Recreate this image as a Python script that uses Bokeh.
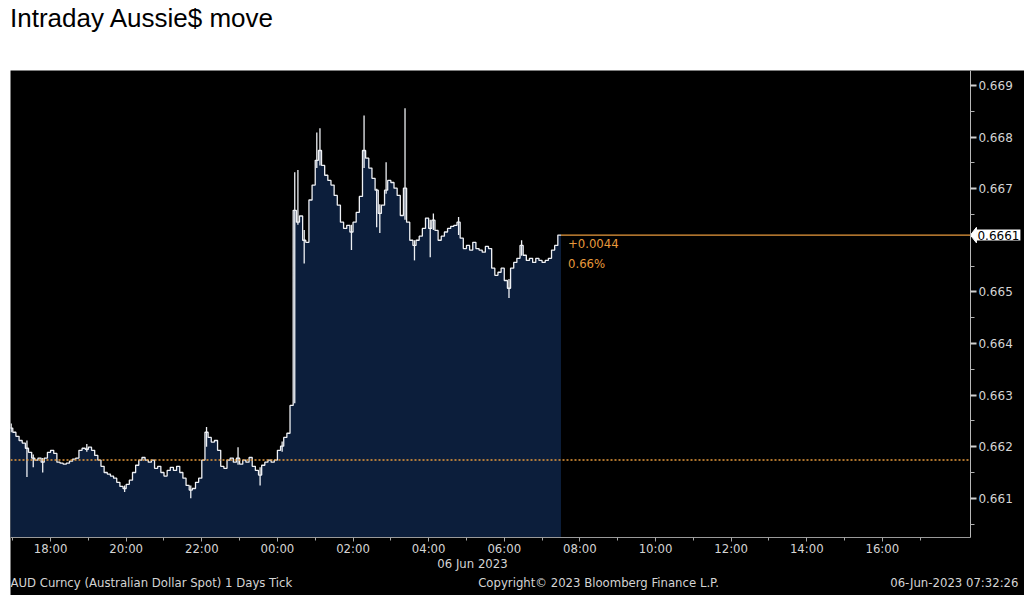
import numpy as np
from bokeh.plotting import figure
from bokeh.models import Label, FixedTicker, Div, Range1d, PrintfTickFormatter, LinearAxis
from bokeh.layouts import column
from bokeh.embed import file_html
from bokeh.resources import INLINE

# ---------------- data ----------------
title_text = "Intraday Aussie$ move"
start_hour = -7 - 5 / 60          # first 5-minute bar starts 16:55 (hours relative to 00:00, 06 Jun)
bar_minutes = 5
closes = [
    0.66236, 0.66228, 0.66220, 0.66212, 0.66207, 0.66197, 0.66189, 0.66178, 0.66174, 0.66178,
    0.66170, 0.66178, 0.66189, 0.66193, 0.66187, 0.66170, 0.66168, 0.66166, 0.66168, 0.66172,
    0.66176, 0.66178, 0.66193, 0.66197, 0.66195, 0.66199, 0.66193, 0.66183, 0.66174, 0.66162,
    0.66150, 0.66147, 0.66143, 0.66139, 0.66131, 0.66123, 0.66119, 0.66127, 0.66135, 0.66150,
    0.66164, 0.66174, 0.66179, 0.66174, 0.66170, 0.66174, 0.66158, 0.66162, 0.66150, 0.66143,
    0.66154, 0.66160, 0.66154, 0.66162, 0.66150, 0.66139, 0.66125, 0.66116, 0.66119, 0.66131,
    0.66139, 0.66174, 0.66228, 0.66218, 0.66209, 0.66212, 0.66193, 0.66162, 0.66158, 0.66174,
    0.66178, 0.66170, 0.66178, 0.66166, 0.66174, 0.66170, 0.66179, 0.66162, 0.66154, 0.66145,
    0.66164, 0.66170, 0.66174, 0.66170, 0.66174, 0.66193, 0.66201, 0.66218, 0.66226, 0.66280,
    0.66658, 0.66635, 0.66647, 0.66600, 0.66596, 0.66678, 0.66707, 0.66755, 0.66774, 0.66745,
    0.66726, 0.66716, 0.66707, 0.66687, 0.66668, 0.66635, 0.66623, 0.66629, 0.66616, 0.66635,
    0.66654, 0.66685, 0.66774, 0.66759, 0.66740, 0.66720, 0.66697, 0.66652, 0.66668, 0.66697,
    0.66716, 0.66712, 0.66701, 0.66687, 0.66648, 0.66701, 0.66635, 0.66600, 0.66590, 0.66600,
    0.66608, 0.66623, 0.66643, 0.66623, 0.66639, 0.66619, 0.66600, 0.66608, 0.66616, 0.66623,
    0.66627, 0.66629, 0.66635, 0.66604, 0.66584, 0.66590, 0.66581, 0.66596, 0.66584, 0.66581,
    0.66577, 0.66588, 0.66584, 0.66546, 0.66532, 0.66538, 0.66546, 0.66522, 0.66507, 0.66546,
    0.66557, 0.66565, 0.66590, 0.66571, 0.66561, 0.66565, 0.66557, 0.66565, 0.66561, 0.66557,
    0.66561, 0.66565, 0.66581, 0.66590, 0.66610,
]
spike_bars = [0, 5, 7, 10, 24, 36, 57, 62, 72, 79, 86, 90, 91, 93, 97, 98, 108, 112,
              116, 117, 119, 125, 128, 133, 134, 142, 158, 162]
spike_highs = [0.66245, 0.66212, 0.66185, 0.66178, 0.66205, 0.66125, 0.66125, 0.66238,
               0.66199, 0.66160, 0.66210, 0.66732, 0.66736, 0.66620, 0.66809, 0.66817,
               0.66630, 0.66842, 0.66700, 0.66670, 0.66751, 0.66856, 0.66600, 0.66640,
               0.66652, 0.66645, 0.66525, 0.66600]
spike_lows = [0.66228, 0.66141, 0.66160, 0.66150, 0.66190, 0.66112, 0.66100, 0.66200,
              0.66165, 0.66125, 0.66190, 0.66284, 0.66630, 0.66555, 0.66740, 0.66745,
              0.66581, 0.66740, 0.66625, 0.66614, 0.66690, 0.66640, 0.66561, 0.66567,
              0.66620, 0.66610, 0.66488, 0.66570]
prev_close = 0.66174
last_price = 0.6661
last_text = "0.6661"
change_text = "+0.0044"
pct_text = "0.66%"
x_tick_hours = [-6, -4, -2, 0, 2, 4, 6, 8, 10, 12, 14, 16]
x_tick_labels = ["18:00", "20:00", "22:00", "00:00", "02:00", "04:00", "06:00",
                 "08:00", "10:00", "12:00", "14:00", "16:00"]
x_minor_hours = [-7, -5, -3, -1, 1, 3, 5, 7, 9, 11, 13, 15, 17]
y_ticks = [0.661, 0.662, 0.663, 0.664, 0.665, 0.667, 0.668, 0.669]
y_minor = [0.6605, 0.6615, 0.6625, 0.6635, 0.6645, 0.6655, 0.6665, 0.6675, 0.6685]
date_text = "06 Jun 2023"
footer_left = "AUD Curncy (Australian Dollar Spot) 1 Days  Tick"
footer_mid = "Copyright\u00a9 2023 Bloomberg Finance L.P."
footer_right = "06-Jun-2023 07:32:26"

# ---------------- style ----------------
NARROW = "'Liberation Sans Narrow', 'DejaVu Sans Condensed', sans-serif"
WIDE = "'DejaVu Sans', sans-serif"
NAVY = "#0c1e3b"
ORANGE = "#e89a3c"
GREY = "#d4d4d4"
RULE = "#9a9a9a"

# the whole black panel is the frame; the chart area is bounded by two fixed axes
x0 = -7.06            # left edge of the time window (hours)
x_axis_pos = 18.33    # where the price axis sits
x1 = 19.76            # the black panel continues to the right of the axis
y_floor = 0.66024     # bottom of the price area, where the time axis sits
y_top = 0.66929
y_panel_bottom = 0.659116   # the black panel continues below the time axis

p = figure(width=1014, height=525, output_backend="svg", toolbar_location=None,
           x_range=Range1d(x0, x1), y_range=Range1d(y_panel_bottom, y_top),
           x_axis_location=None, y_axis_location=None, min_border=0,
           margin=(0, 0, 0, 10))
p.background_fill_color = "black"
p.border_fill_color = "black"
p.outline_line_color = None
p.grid.visible = False

dt = bar_minutes / 60
n = len(closes)
edges = start_hour + np.arange(n + 1) * dt
xs = np.repeat(edges, 2)[1:-1]
ys = np.repeat(np.array(closes), 2)

p.varea(x=xs, y1=y_floor, y2=ys, fill_color=NAVY)
p.line(xs, ys, line_color="#eef0f4", line_width=1.3)
cx = edges[np.array(spike_bars)] + dt / 2
p.segment(x0=cx, y0=spike_lows, x1=cx, y1=spike_highs, line_color="#eef0f4", line_width=1.3)

# previous close (dotted) and last price (solid)
p.line([x0, x_axis_pos], [prev_close, prev_close], line_color=ORANGE,
       line_dash="2 2", line_width=1.5)
p.line([edges[-1], x_axis_pos], [last_price, last_price], line_color=ORANGE, line_width=1.2)

p.add_layout(Label(x=edges[-1], y=last_price, x_offset=7, y_offset=-4, text=change_text,
                   text_baseline="top", text_color=ORANGE, text_font=NARROW,
                   text_font_size="13px"))
p.add_layout(Label(x=edges[-1], y=last_price, x_offset=7, y_offset=-21, text=pct_text,
                   text_baseline="top", text_color=ORANGE, text_font=NARROW,
                   text_font_size="13px"))

# time axis, fixed at the bottom of the price area
xa = LinearAxis(fixed_location=y_floor, bounds=(x0, x_axis_pos),
                ticker=FixedTicker(ticks=x_tick_hours, minor_ticks=x_minor_hours))
xa.major_label_overrides = {h: t for h, t in zip(x_tick_hours, x_tick_labels)}
xa.axis_line_color = RULE
xa.major_tick_line_color = "#a8a8a8"
xa.minor_tick_line_color = "#a8a8a8"
xa.major_tick_in = 0
xa.major_tick_out = 4
xa.minor_tick_in = 0
xa.minor_tick_out = 3
xa.major_label_standoff = 0
xa.major_label_text_color = GREY
xa.major_label_text_font = NARROW
xa.major_label_text_font_size = "13px"
p.add_layout(xa, "below")

# price axis, fixed at the right edge of the time window
ya = LinearAxis(fixed_location=x_axis_pos, bounds=(y_floor, y_top),
                ticker=FixedTicker(ticks=y_ticks, minor_ticks=y_minor),
                formatter=PrintfTickFormatter(format="%.3f"))
ya.axis_line_color = "#b8b8b8"
ya.major_tick_line_color = "#d0d0d0"
ya.major_tick_line_width = 2
ya.minor_tick_line_color = "#b0b0b0"
ya.major_tick_in = 0
ya.major_tick_out = 6
ya.minor_tick_in = 0
ya.minor_tick_out = 4
ya.major_label_standoff = 2
ya.major_label_text_color = GREY
ya.major_label_text_font = WIDE
ya.major_label_text_font_size = "12px"
p.add_layout(ya, "right")

# last-price tag on the axis
tip_w = 6 / 37.8          # about 6 px in hours
tip_h = 0.00015
p.patch([x_axis_pos, x_axis_pos + tip_w, x_axis_pos + tip_w],
        [last_price, last_price + tip_h, last_price - tip_h],
        fill_color="white", line_color="white")
p.add_layout(Label(x=x_axis_pos, y=last_price, x_offset=6, text=last_text,
                   text_baseline="middle", text_color="black", text_font=WIDE,
                   text_font_size="12px", background_fill_color="white", padding=1))

# date and source line at the bottom of the panel (screen px from the panel's bottom-left)
footer_items = [(date_text, 462, 32, "center"), (footer_left, 0, 13, "left"),
                (footer_mid, 588, 13, "center"), (footer_right, 1008, 13, "right")]
for txt, fx, fy, al in footer_items:
    p.add_layout(Label(x=fx, y=fy, x_units="screen", y_units="screen", text=txt,
                       text_align=al, text_baseline="middle", text_color=GREY,
                       text_font=NARROW, text_font_size="13px"))

title = Div(text=title_text, width=1014, height=67, margin=(3, 0, 0, 10),
            styles={"font-family": "'Liberation Sans', Arial, sans-serif",
                    "font-size": "26px", "line-height": "30px", "color": "black"})

layout = column(title, p, spacing=0)
open("out.html", "w").write(file_html(layout, INLINE))
